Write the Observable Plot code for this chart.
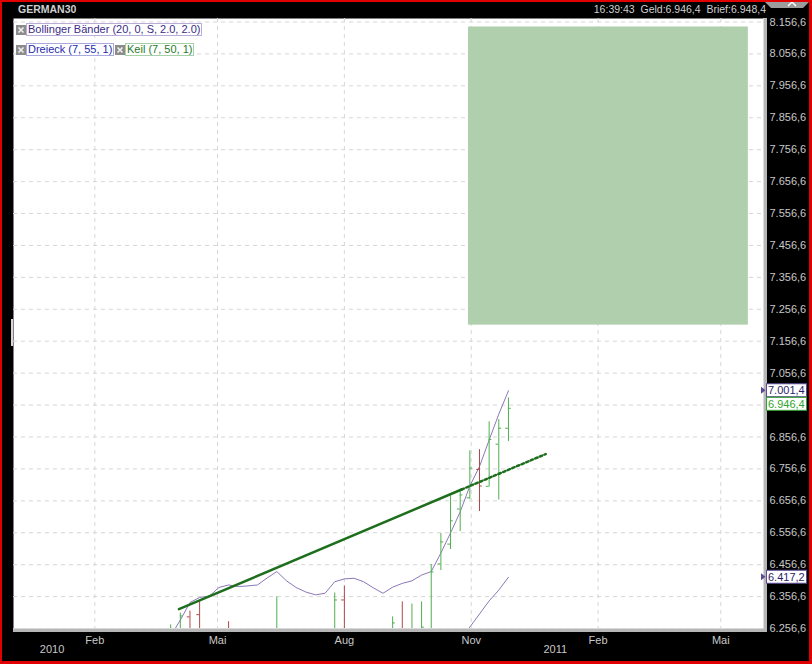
<!DOCTYPE html>
<html><head><meta charset="utf-8">
<script src="https://cdn.jsdelivr.net/npm/d3@7"></script>
<script src="https://cdn.jsdelivr.net/npm/@observablehq/plot@0.6"></script>
<style>
html,body{margin:0;padding:0;background:#000;}
body{width:812px;height:664px;overflow:hidden;font-family:"Liberation Sans",Arial,sans-serif;}
#wrap{position:relative;width:812px;height:664px;background:#000;overflow:hidden;}
#chart{position:absolute;left:0;top:0;}
.abs{position:absolute;}
#border{position:absolute;left:0;top:0;width:812px;height:664px;box-sizing:border-box;border-style:solid;border-color:#e00000;border-width:2px 3px 3px 2px;pointer-events:none;z-index:10;}
.hdr{position:absolute;top:3px;font-size:11px;line-height:13px;color:#cfcfcf;white-space:nowrap;}
.ico{position:absolute;width:10px;height:10px;z-index:5;}
.leg{position:absolute;height:11px;line-height:11px;font-size:11px;padding:0 1px;background:#fff;border:1px solid;white-space:nowrap;z-index:5;}
</style>
</head>
<body>
<div id="wrap">
  <div class="hdr" style="left:18px;font-weight:bold;font-size:10.5px;">GERMAN30</div>
  <div class="hdr" style="right:46px;font-size:10.5px;">16:39:43 &nbsp;Geld:6.946,4 &nbsp;Brief:6.948,4</div>
  <svg class="abs" style="left:763px;top:0;z-index:6" width="48" height="10">
    <polygon points="0,0 48,0 40,8 8,8" fill="#9c9c9c"/>
    <polyline points="25,6 29,2 33,6" fill="none" stroke="#fff" stroke-width="1.5"/>
  </svg>
  <div class="abs" style="left:13px;top:628px;width:754px;height:4px;background:#b7b7b7;"></div>
  <div class="abs" style="left:763px;top:18px;width:4px;height:614px;background:#b7b7b7;"></div>
  <div class="abs" style="left:11px;top:319px;width:2px;height:27px;background:#d8d8d8;"></div>
  <div id="chart"></div>

  <svg class="ico" style="left:16px;top:25px" width="10" height="10"><rect width="10" height="10" fill="#8c8c8c"/><path d="M2.5,2.5L7.5,7.5M7.5,2.5L2.5,7.5" stroke="#f0f0f0" stroke-width="1.6"/></svg>
  <div class="leg" style="left:26px;top:23px;border-color:#b9acd9;color:#3a2b88;">Bollinger Bänder (20, 0, S, 2.0, 2.0)</div>
  <svg class="ico" style="left:16px;top:45px" width="10" height="10"><rect width="10" height="10" fill="#8c8c8c"/><path d="M2.5,2.5L7.5,7.5M7.5,2.5L2.5,7.5" stroke="#f0f0f0" stroke-width="1.6"/></svg>
  <div class="leg" style="left:26px;top:43px;border-color:#a9a9e0;color:#1f2bb0;">Dreieck (7, 55, 1)</div>
  <svg class="ico" style="left:115px;top:45px" width="10" height="10"><rect width="10" height="10" fill="#8c8c8c"/><path d="M2.5,2.5L7.5,7.5M7.5,2.5L2.5,7.5" stroke="#f0f0f0" stroke-width="1.6"/></svg>
  <div class="leg" style="left:125px;top:43px;border-color:#a8d0a8;color:#2a7a2a;">Keil (7, 50, 1)</div>
  <div id="border"></div>
</div>
<script>
// ---- data ----
const weekDates = ["2010-03-28","2010-04-04","2010-04-11","2010-04-18","2010-04-25","2010-05-02","2010-05-09","2010-05-16","2010-05-23","2010-05-30","2010-06-06","2010-06-13","2010-06-20","2010-06-27","2010-07-04","2010-07-11","2010-07-18","2010-07-25","2010-08-01","2010-08-08","2010-08-15","2010-08-22","2010-08-29","2010-09-05","2010-09-12","2010-09-19","2010-09-26","2010-10-03","2010-10-10","2010-10-17","2010-10-24","2010-10-31","2010-11-07","2010-11-14","2010-11-21","2010-11-28"];
const upperBand = [6233,6283,6338,6354,6358,6385,6393,6388,6390,6393,6415,6435,6406,6385,6371,6362,6367,6403,6412,6414,6403,6384,6367,6386,6398,6406,6424,6435,6493,6556,6622,6703,6764,6847,6928,7001.4];

const midDates = ["2010-10-24","2010-10-31","2010-11-07","2010-11-14","2010-11-21","2010-11-28"];
const midBand  = [6228,6261,6302,6343,6377,6417.2];

const barDates = ["2010-03-28","2010-04-04","2010-04-11","2010-04-18","2010-05-09","2010-06-13","2010-07-25","2010-08-01","2010-09-05","2010-09-12","2010-09-19","2010-09-26","2010-10-03","2010-10-10","2010-10-17","2010-10-24","2010-10-31","2010-11-07","2010-11-14","2010-11-21","2010-11-28"];
const barOpen  = [6180,6200,6293,6300,6230,6100,6150,6346,6150,6250,6180,6200,6240,6459,6521,6631,6666,6755,6702,6834,6884];
const barHigh  = [6268,6305,6311,6341,6278,6356,6368,6390,6293,6340,6333,6340,6457,6554,6672,6685,6813,6817,6904,6911,6979];
const barLow   = [6120,6150,6180,6120,6100,6050,6100,6150,6100,6150,6150,6150,6200,6438,6504,6560,6661,6623,6700,6659,6842];
const barClose = [6240,6296,6230,6180,6150,6220,6346,6200,6274,6200,6240,6261,6434,6528,6594,6675,6759,6703,6849,6884,6946.4];

const wedgeDates = ["2010-04-03","2010-10-25"];
const wedgeValues = [6317,6692];
const wedgeExtDates = ["2010-10-25","2010-12-25"];
const wedgeExtValues = [6692,6803];

const zoneDates = ["2010-10-30","2011-05-21"];
const zoneValues = [7207,8141];

const monthTicks = ["2010-02-01","2010-05-01","2010-08-01","2010-11-01","2011-02-01","2011-05-01"];
const monthLabels = ["Feb","Mai","Aug","Nov","Feb","Mai"];
const yearTicks = ["2010-01-01","2011-01-01"];
const yearLabels = ["2010","2011"];
const yTicks = [6256.6,6356.6,6456.6,6556.6,6656.6,6756.6,6856.6,6956.6,7056.6,7156.6,7256.6,7356.6,7456.6,7556.6,7656.6,7756.6,7856.6,7956.6,8056.6,8156.6];

const lastValues = [7001.4, 6946.4, 6417.2];

// ---- build ----
const P = d3.isoParse;
const de = d3.formatLocale({decimal: ",", thousands: ".", grouping: [3], currency: ["", " €"]});
const fmt = de.format(",.1f");

const bars = barDates.map((d, i) => ({date: P(d), open: barOpen[i], high: barHigh[i], low: barLow[i], close: barClose[i]}));
bars.forEach(b => b.col = b.close >= b.open ? "#4fb04f" : "#b04848");
const upper = weekDates.map((d, i) => ({date: P(d), v: upperBand[i]}));
const mid = midDates.map((d, i) => ({date: P(d), v: midBand[i]}));
const wedge = wedgeDates.map((d, i) => ({date: P(d), v: wedgeValues[i]}));
const wedgeExt = wedgeExtDates.map((d, i) => ({date: P(d), v: wedgeExtValues[i]}));
const zone = [{x1: P(zoneDates[0]), x2: P(zoneDates[1]), y1: zoneValues[0], y2: zoneValues[1]}];
const monthDates = monthTicks.map(P);
const labelMap = new Map(monthDates.map((d, i) => [+d, monthLabels[i]]));
const years = yearTicks.map((d, i) => ({date: P(d), label: yearLabels[i]}));

const chart = Plot.plot({
  width: 812, height: 664,
  marginLeft: 13, marginRight: 49, marginTop: 18, marginBottom: 36,
  style: {background: "transparent", color: "#c8c8c8", fontFamily: "Liberation Sans, Arial, sans-serif", fontSize: "11px"},
  color: {type: "identity"},
  x: {type: "utc", domain: [P("2009-12-04"), P("2011-06-01")], ticks: monthDates, tickFormat: d => labelMap.get(+d), tickSize: 0, tickPadding: 8, label: null},
  y: {domain: [6256.6, 8167.6], ticks: yTicks, tickFormat: fmt, axis: "right", tickSize: 0, tickPadding: 6, label: null},
  marks: [
    Plot.frame({fill: "white", stroke: null}),
    Plot.ruleY(yTicks, {y: d => d, stroke: "#d6d6d6", strokeDasharray: "4,4"}),
    Plot.ruleX(monthDates, {x: d => d, stroke: "#d6d6d6", strokeDasharray: "4,4"}),
    Plot.rect(zone, {x1: "x1", x2: "x2", y1: "y1", y2: "y2", fill: "#b0cfac"}),
    Plot.line(upper, {x: "date", y: "v", stroke: "#8a78b8", strokeWidth: 1, clip: true}),
    Plot.line(mid, {x: "date", y: "v", stroke: "#8a78b8", strokeWidth: 1, clip: true}),
    Plot.ruleX(bars, {x: "date", y1: "low", y2: "high", stroke: "col", clip: true}),
    Plot.ruleY(bars, {x1: d => d3.utcDay.offset(d.date, -2), x2: "date", y: "open", stroke: "col", clip: true}),
    Plot.ruleY(bars, {x1: "date", x2: d => d3.utcDay.offset(d.date, 2), y: "close", stroke: "col", clip: true}),
    Plot.line(wedge, {x: "date", y: "v", stroke: "#1d6e1d", strokeWidth: 2.5}),
    Plot.line(wedgeExt, {x: "date", y: "v", stroke: "#1d6e1d", strokeWidth: 2.5, strokeDasharray: "2.5,2.5"}),
    Plot.text(years, {x: "date", text: "label", frameAnchor: "bottom", dy: 24, fill: "#c8c8c8", fontSize: 11})
  ]
});
document.getElementById("chart").appendChild(chart);

// value boxes on the right, placed with the plot's y scale
const ys = chart.scale("y");
const styles = [
  {border: "#5c4a96", text: "#2b1d6a", arrow: true, dy: 0},
  {border: "#2fa52f", text: "#2fa52f", arrow: false, dy: -4},
  {border: "#5c4a96", text: "#2b1d6a", arrow: true, dy: 0}
];
const svg = d3.select(chart);
const g = svg.append("g").attr("text-anchor", "start");
lastValues.forEach((v, i) => {
  const s = styles[i];
  const cy = ys.apply(v) + s.dy;
  g.append("rect").attr("x", 766.5).attr("y", cy - 6.5).attr("width", 40).attr("height", 13)
    .attr("fill", "#fff").attr("stroke", s.border).attr("stroke-width", 1);
  g.append("text").attr("x", 768).attr("y", cy + 4).attr("fill", s.text).attr("text-anchor", "start")
    .attr("font-size", 11).attr("font-family", "Liberation Sans, Arial, sans-serif").text(fmt(v));
  if (s.arrow) g.append("polygon").attr("points", `761,${cy - 3.5} 765.5,${cy} 761,${cy + 3.5}`).attr("fill", s.border);
});
</script>
</body></html>
